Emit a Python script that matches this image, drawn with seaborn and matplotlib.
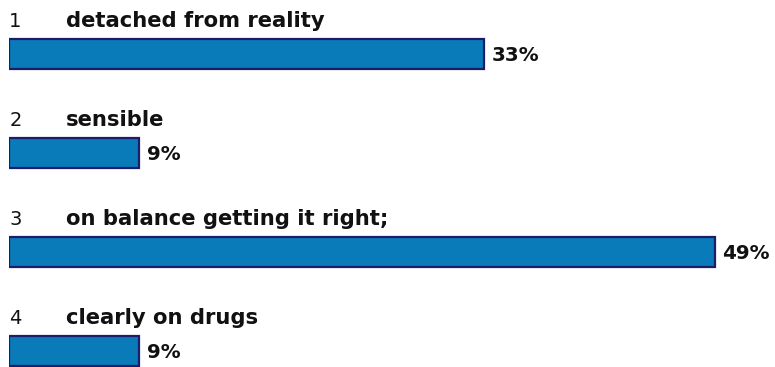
import matplotlib
matplotlib.use("Agg")
import matplotlib.pyplot as plt
import seaborn as sns
import pandas as pd

numbers = ["1", "2", "3", "4"]
labels = ["detached from reality", "sensible", "on balance getting it right;", "clearly on drugs"]
values = [33, 9, 49, 9]

df = pd.DataFrame({"cat": labels, "value": values})

sns.set_theme(style="white")
plt.rcParams['font.family'] = ['DejaVu Sans']

fig = plt.figure(figsize=(7.75, 3.67), dpi=100)
ax = fig.add_axes([9/775, 0, 1 - 9/775, 1])

sns.barplot(data=df, x="value", y="cat", orient="h", ax=ax,
            color="#0a7bb9", saturation=1, width=0.303,
            edgecolor="#1c1c6b", linewidth=1.6)

ax.set_xlim(0, 766/14.4)
ax.set_ylim(3.162, -0.545)
ax.axis("off")

for i, (n, lab, v) in enumerate(zip(numbers, labels, values)):
    ax.text(0.02, i - 0.27, n, fontsize=14, color="#111111", va="baseline", ha="left")
    ax.text(3.95, i - 0.27, lab, fontsize=15.2, fontweight="bold", color="#111111", va="baseline", ha="left")
    ax.text(v + 0.55, i + 0.02, f"{v}%", fontsize=14.3, fontweight="bold", color="#111111", va="center", ha="left")

fig.savefig("out.png", dpi=100)
